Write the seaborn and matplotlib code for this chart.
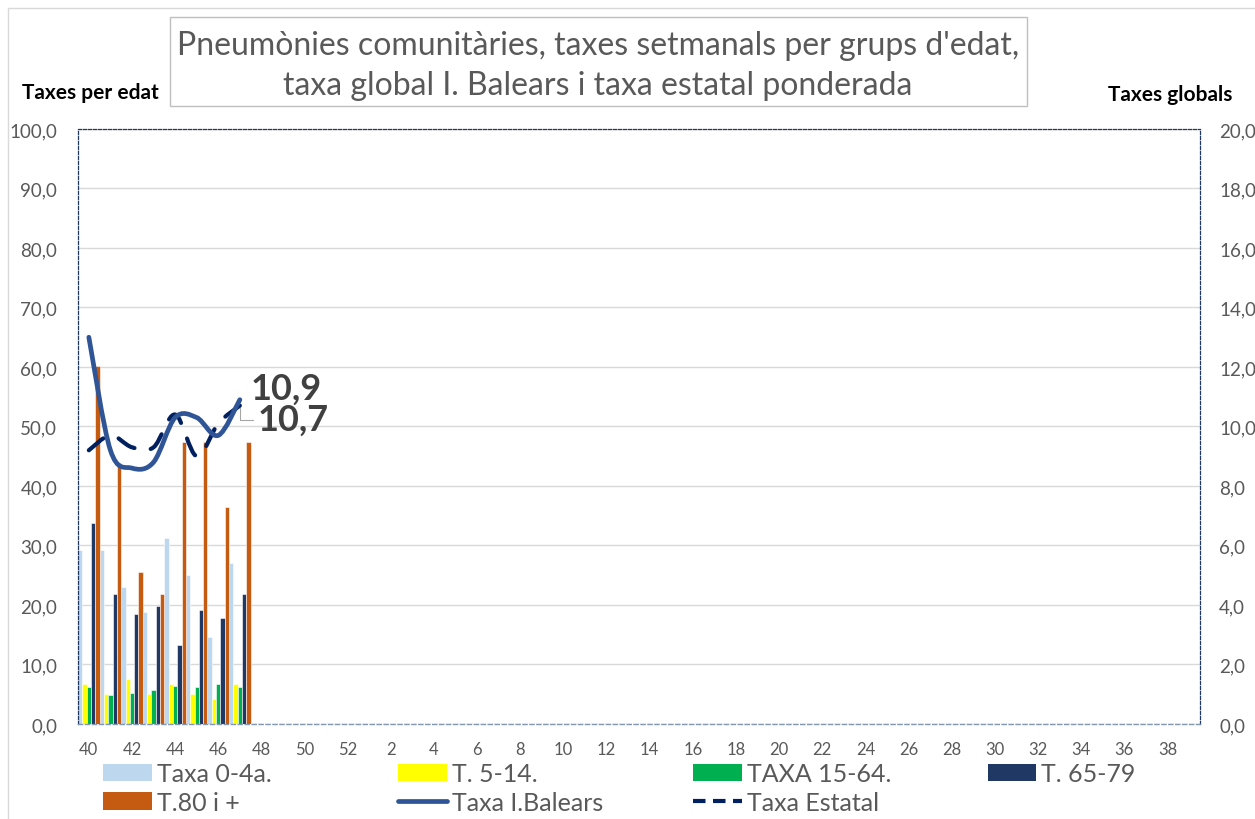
import numpy as np
import pandas as pd
import matplotlib.pyplot as plt
import seaborn as sns
from matplotlib.path import Path
from matplotlib.patches import PathPatch, Rectangle, Patch
from matplotlib.lines import Line2D
from matplotlib.ticker import FuncFormatter

# weeks 40..52 then 1..39
weeks = [str(w) for w in list(range(40, 53)) + list(range(1, 40))]
data_weeks = ['40', '41', '42', '43', '44', '45', '46', '47']

groups = ['Taxa 0-4a.', 'T. 5-14.', 'TAXA 15-64.', 'T. 65-79', 'T.80 i +']
colors = ['#BDD7EE', '#FFFF00', '#00B050', '#203864', '#C55A11']

taxa_0_4 = [29.3, 29.3, 23.0, 18.8, 31.3, 25.0, 14.6, 27.1]
taxa_5_14 = [6.7, 5.0, 7.6, 5.0, 6.7, 5.0, 4.2, 6.7]
taxa_15_64 = [6.2, 4.8, 5.2, 5.7, 6.4, 6.2, 6.8, 6.2]
taxa_65_79 = [33.8, 21.8, 18.5, 19.9, 13.2, 19.2, 17.8, 21.8]
taxa_80 = [60.2, 43.8, 25.5, 21.9, 47.4, 47.4, 36.5, 47.4]

taxa_balears = [13.0, 9.2, 8.6, 8.8, 10.3, 10.3, 9.7, 10.9]
taxa_estatal = [9.2, 9.7, 9.3, 9.3, 10.4, 9.0, 10.1, 10.7]

rows = []
for g, vals in zip(groups, [taxa_0_4, taxa_5_14, taxa_15_64, taxa_65_79, taxa_80]):
    for w, v in zip(data_weeks, vals):
        rows.append({'setmana': w, 'grup': g, 'taxa': v})
df = pd.DataFrame(rows)

sns.set_style('white')
plt.rcParams['font.family'] = ['Lato', 'DejaVu Sans']
grey = '#595959'

fig = plt.figure(figsize=(12.55, 8.2), dpi=100)
ax = fig.add_axes([0.0622, 0.1159, 0.8938, 0.7256])

sns.barplot(data=df, x='setmana', y='taxa', hue='grup', order=weeks,
            hue_order=groups, palette=colors, width=1.0, errorbar=None,
            saturation=1, legend=False, ax=ax, edgecolor='white', linewidth=0.4)

ax.set_xlim(-0.5, len(weeks) - 0.5)
ax.set_ylim(0, 100)
ax.set_yticks(np.arange(0, 101, 10))
ax.yaxis.set_major_formatter(FuncFormatter(lambda v, p: f'{v:.1f}'.replace('.', ',')))
ax.set_xticks(range(0, len(weeks), 2))
ax.set_xticklabels(weeks[::2])
ax.tick_params(axis='x', colors=grey, labelsize=12, length=0, pad=12)
ax.tick_params(axis='y', colors=grey, labelsize=13.5, length=0, pad=15)
ax.set_xlabel('')
ax.set_ylabel('')
ax.grid(axis='y', color='#D9D9D9', linewidth=1)
ax.set_axisbelow(True)
for s in ['left', 'right', 'top']:
    ax.spines[s].set_visible(True)
    ax.spines[s].set_color('#1F3864')
    ax.spines[s].set_linestyle((0, (2.5, 1.5)))
    ax.spines[s].set_linewidth(0.9)
ax.spines['bottom'].set_color('#8497B0')
ax.spines['bottom'].set_linestyle((0, (3, 2)))
ax.spines['bottom'].set_linewidth(1)

ax2 = ax.twinx()
ax2.set_ylim(0, 20)
ax2.set_yticks(np.arange(0, 21, 2))
ax2.yaxis.set_major_formatter(FuncFormatter(lambda v, p: f'{v:.1f}'.replace('.', ',')))
ax2.tick_params(axis='y', colors=grey, labelsize=13.5, length=0, pad=14)
for s in ax2.spines.values():
    s.set_visible(False)


def smooth_path(xs, ys):
    # Bezier curve through the points, like a spreadsheet "smoothed line"
    pts = np.column_stack([xs, ys]).astype(float)
    n = len(pts)
    verts = [pts[0]]
    codes = [Path.MOVETO]
    for i in range(n - 1):
        p0 = pts[max(i - 1, 0)]
        p1 = pts[i]
        p2 = pts[i + 1]
        p3 = pts[min(i + 2, n - 1)]
        c1 = p1 + (p2 - p0) / 6
        c2 = p2 - (p3 - p1) / 6
        verts += [c1, c2, p2]
        codes += [Path.CURVE4] * 3
    return Path(verts, codes)


xpos = [weeks.index(w) for w in data_weeks]
ax2.add_patch(PathPatch(smooth_path(xpos, taxa_estatal), facecolor='none',
                        edgecolor='#002060', lw=3.0, linestyle=(0, (4.5, 4)),
                        capstyle='round', zorder=3))
ax2.add_patch(PathPatch(smooth_path(xpos, taxa_balears), facecolor='none',
                        edgecolor='#2F5597', lw=3.4, capstyle='round', zorder=4))

ax2.annotate(f'{taxa_balears[-1]:.1f}'.replace('.', ','), (xpos[-1], taxa_balears[-1]),
             xytext=(8, 8), textcoords='offset points', ha='left', va='center',
             fontsize=26, fontweight='bold', color='#404040')
ax2.annotate(f'{taxa_estatal[-1]:.1f}'.replace('.', ','), (xpos[-1], taxa_estatal[-1]),
             xytext=(12.5, -10), textcoords='offset points', ha='left', va='center',
             fontsize=26, fontweight='bold', color='#404040',
             arrowprops=dict(arrowstyle='-', color='#A6A6A6', lw=0.8,
                             connectionstyle='angle,angleA=0,angleB=90,rad=0',
                             shrinkA=1, shrinkB=2, relpos=(0, 0.5)))

# title box and axis titles
fig.patches.append(Rectangle((0.1355, 0.8695), 0.683, 0.1085, transform=fig.transFigure,
                             facecolor='white', edgecolor='#BFBFBF', lw=1))
fig.patches.append(Rectangle((0.0064, -0.01), 1.0, 0.999, transform=fig.transFigure,
                             facecolor='none', edgecolor='#D9D9D9', lw=1))
fig.text(0.4765, 0.9195, "Pneumònies comunitàries, taxes setmanals per grups d'edat,\n"
         "taxa global I. Balears i taxa estatal ponderada",
         ha='center', va='center', fontsize=23, color=grey, linespacing=1.38)
fig.text(0.0717, 0.8866, 'Taxes per edat', ha='center', va='center',
         fontsize=15, fontweight='bold', color='black')
fig.text(0.9323, 0.8845, 'Taxes globals', ha='center', va='center',
         fontsize=15, fontweight='bold', color='black')

# legend, one column at a time
bar_h = [Patch(facecolor=c, edgecolor='none') for c in colors]
bal_h = Line2D([], [], color='#2F5597', lw=3.4, solid_capstyle='round')
est_h = Line2D([], [], color='#002060', lw=3.0, linestyle=(0, (3, 1.8)))
cols = [([bar_h[0], bar_h[4]], [groups[0], groups[4]]),
        ([bar_h[1], bal_h], [groups[1], 'Taxa I.Balears']),
        ([bar_h[2], est_h], [groups[2], 'Taxa Estatal']),
        ([bar_h[3]], [groups[3]])]
xs = [0.082, 0.317, 0.552, 0.787]
for (h, l), x in zip(cols, xs):
    leg = fig.legend(h, l, loc='upper left', bbox_to_anchor=(x, 0.069), frameon=False,
                     fontsize=18, labelcolor=grey, handlelength=1.95, handleheight=0.7,
                     handletextpad=0.2, labelspacing=0.22, borderaxespad=0, borderpad=0)

fig.savefig('out.png', dpi=100)
